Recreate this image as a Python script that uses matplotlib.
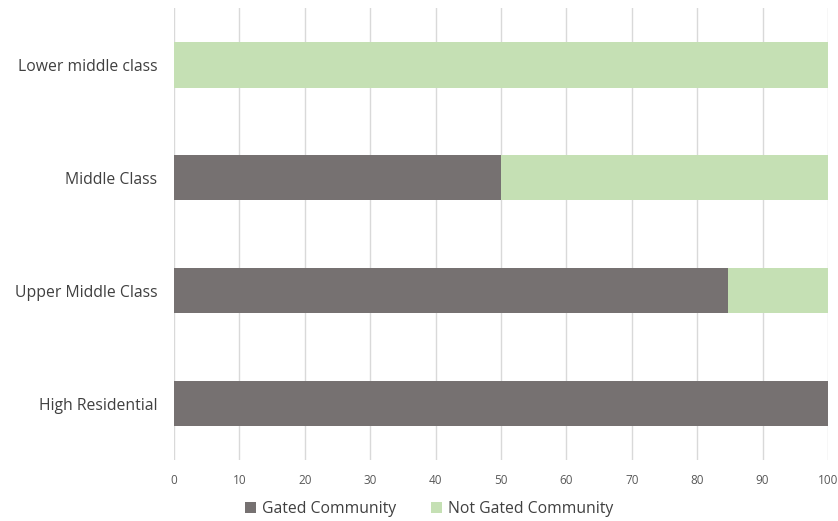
import matplotlib
matplotlib.use("Agg")
import matplotlib.pyplot as plt

categories = ["High Residential", "Upper Middle Class", "Middle Class", "Lower middle class"]
gated = [100, 84.7, 50, 0]
not_gated = [0, 15.3, 50, 100]
xticks = list(range(0, 101, 10))

plt.rcParams['font.family'] = ['Open Sans', 'DejaVu Sans']

fig = plt.figure(figsize=(8.38, 5.21), dpi=100)
ax = fig.add_axes([0.2076, 0.117, 0.7804, 0.8667])

ax.barh(categories, gated, height=0.4, color="#767171", label="Gated Community", zorder=3)
ax.barh(categories, not_gated, left=gated, height=0.4, color="#C5E0B4",
        label="Not Gated Community", zorder=3)

ax.set_xlim(0, 100)
ax.set_ylim(-0.5, 3.5)
ax.set_xticks(xticks)
ax.xaxis.grid(True, color="#d9d9d9", linewidth=1, zorder=0)
for s in ax.spines.values():
    s.set_visible(False)
ax.tick_params(axis="both", length=0)
ax.tick_params(axis="x", labelsize=8.5, labelcolor="#595959", pad=10)
ax.tick_params(axis="y", labelsize=11.3, labelcolor="#404040", pad=12)

ax.legend(loc="center", bbox_to_anchor=(0.512, 0.023), bbox_transform=fig.transFigure,
          ncol=2, frameon=False, fontsize=11.3, labelcolor="#404040",
          handlelength=0.7, handleheight=0.7, handletextpad=0.4, columnspacing=2.2)

fig.savefig("out.png", dpi=100)
